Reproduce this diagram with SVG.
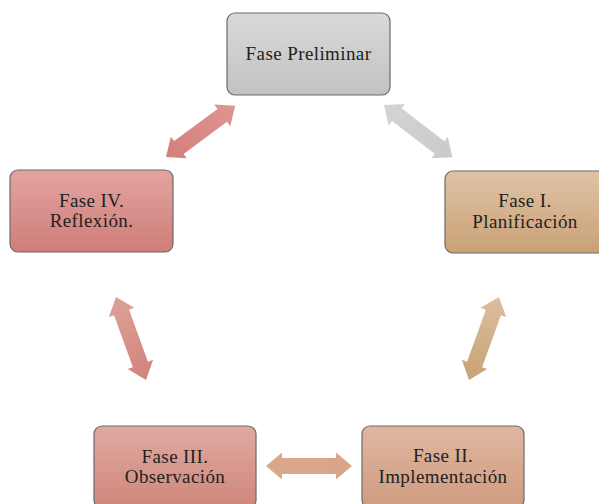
<svg xmlns="http://www.w3.org/2000/svg" width="599" height="504" viewBox="0 0 599 504">
  <style>
    .box { stroke: #6a6a6a; stroke-width: 1.2; }
    .lbl { font-family: "Liberation Serif", "DejaVu Serif", serif; font-size: 19px; letter-spacing: 0.4px; fill: #222222; text-anchor: middle; }
  </style>
  <defs>
    <linearGradient id="gGray" x1="0" y1="0" x2="0" y2="1"><stop offset="0" stop-color="#d9d9d9"/><stop offset="1" stop-color="#c2c2c2"/></linearGradient>
    <linearGradient id="gRed" x1="0" y1="0" x2="0" y2="1"><stop offset="0" stop-color="#e2a4a1"/><stop offset="1" stop-color="#d07d78"/></linearGradient>
    <linearGradient id="gTan" x1="0" y1="0" x2="0" y2="1"><stop offset="0" stop-color="#dfc3a5"/><stop offset="1" stop-color="#c9a176"/></linearGradient>
    <linearGradient id="gRose" x1="0" y1="0" x2="0" y2="1"><stop offset="0" stop-color="#dfaaa1"/><stop offset="1" stop-color="#cf867b"/></linearGradient>
    <linearGradient id="gPeach" x1="0" y1="0" x2="0" y2="1"><stop offset="0" stop-color="#e0b6a1"/><stop offset="1" stop-color="#cf9b7f"/></linearGradient>
    <linearGradient id="aRed" x1="0" y1="0" x2="1" y2="0"><stop offset="0" stop-color="#d47f7a"/><stop offset="1" stop-color="#de9693"/></linearGradient>
    <linearGradient id="aGray" x1="0" y1="0" x2="1" y2="0"><stop offset="0" stop-color="#d4d4d4"/><stop offset="1" stop-color="#cacaca"/></linearGradient>
    <linearGradient id="aTan" x1="0" y1="0" x2="1" y2="0"><stop offset="0" stop-color="#dcbe9e"/><stop offset="1" stop-color="#c9a275"/></linearGradient>
    <linearGradient id="aRose" x1="0" y1="0" x2="1" y2="0"><stop offset="0" stop-color="#dca299"/><stop offset="1" stop-color="#d2837a"/></linearGradient>
    <linearGradient id="aPeach" x1="0" y1="0" x2="1" y2="0"><stop offset="0" stop-color="#daa78d"/><stop offset="1" stop-color="#d9a58a"/></linearGradient>
    <path id="arrow" d="M0,0 L16,-13.5 L16,-8 L70,-8 L70,-13.5 L86,0 L70,13.5 L70,8 L16,8 L16,13.5 Z"/>
  </defs>

  <g id="connectors">
    <use href="#arrow" fill="url(#aRed)" transform="translate(166,157) rotate(-36.5)"/>
    <use href="#arrow" fill="url(#aGray)" transform="translate(384,105) rotate(37.4)"/>
    <use href="#arrow" fill="url(#aTan)" transform="translate(499,297) rotate(109.9) scale(1.025,1)"/>
    <use href="#arrow" fill="url(#aRose)" transform="translate(116,297) rotate(70.1) scale(1.025,1)"/>
    <use href="#arrow" fill="url(#aPeach)" transform="translate(266,466)"/>
  </g>

  <g id="node-preliminar">
    <rect class="box" x="227" y="13" width="163" height="82" rx="8" fill="url(#gGray)"/>
    <text class="lbl" x="308.5" y="60">Fase Preliminar</text>
  </g>
  <g id="node-fase4">
    <rect class="box" x="10" y="170" width="163" height="82" rx="8" fill="url(#gRed)"/>
    <text class="lbl" x="91.5" y="207">Fase IV.</text>
    <text class="lbl" x="91.5" y="227">Reflexión.</text>
  </g>
  <g id="node-fase1">
    <rect class="box" x="445" y="171" width="163" height="82" rx="8" fill="url(#gTan)"/>
    <text class="lbl" x="525" y="207">Fase I.</text>
    <text class="lbl" x="525" y="228">Planificación</text>
  </g>
  <g id="node-fase3">
    <rect class="box" x="94" y="426" width="162" height="82" rx="8" fill="url(#gRose)"/>
    <text class="lbl" x="175" y="463">Fase III.</text>
    <text class="lbl" x="175" y="483">Observación</text>
  </g>
  <g id="node-fase2">
    <rect class="box" x="362" y="426" width="162" height="82" rx="8" fill="url(#gPeach)"/>
    <text class="lbl" x="443" y="462">Fase II.</text>
    <text class="lbl" x="443" y="483">Implementación</text>
  </g>
</svg>
